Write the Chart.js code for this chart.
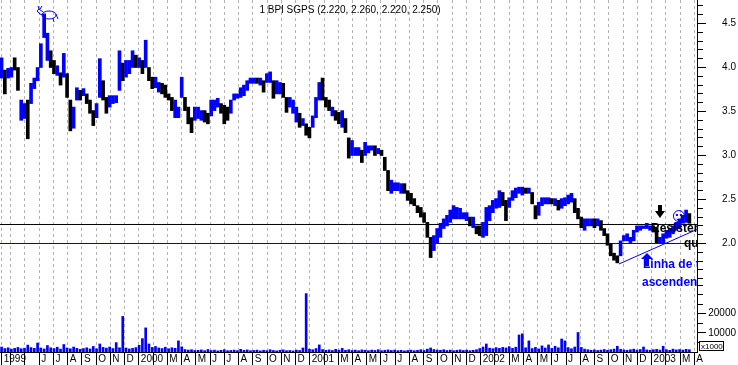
<!DOCTYPE html>
<html>
<head>
<meta charset="utf-8">
<title>BPI SGPS</title>
<script src="https://cdn.jsdelivr.net/npm/chart.js@4.4.1/dist/chart.umd.min.js"></script>
<style>
  html, body { margin: 0; padding: 0; background: #fff; }
  #chart { display: block; }
</style>
</head>
<body>
<canvas id="chart" width="738" height="365"></canvas>
<script>
// weekly bars, first week ~ mid March 1999
const weekHigh = [
  4.11, 3.97, 3.99, 4.00, 4.11, 4.00, 3.63, 3.59, 3.63, 3.82,
  3.88, 4.00, 4.27, 4.61, 4.39, 4.19, 4.08, 4.02, 3.94, 4.16,
  3.93, 3.63, 3.55, 3.77, 3.74, 3.76, 3.70, 3.63, 3.51, 3.59,
  4.10, 3.85, 3.66, 3.68, 3.68, 3.68, 4.19, 4.05, 4.08, 4.08,
  4.19, 4.14, 4.11, 4.08, 4.31, 4.00, 3.89, 3.89, 3.83, 3.82,
  3.80, 3.70, 3.66, 3.63, 3.55, 3.89, 3.66, 3.55, 3.43, 3.55,
  3.55, 3.51, 3.51, 3.48, 3.63, 3.63, 3.65, 3.59, 3.57, 3.55,
  3.63, 3.70, 3.70, 3.77, 3.80, 3.85, 3.88, 3.88, 3.88, 3.88,
  3.85, 3.93, 3.95, 3.85, 3.85, 3.83, 3.82, 3.66, 3.66, 3.63,
  3.55, 3.48, 3.42, 3.36, 3.32, 3.45, 3.66, 3.83, 3.88, 3.66,
  3.63, 3.55, 3.51, 3.49, 3.51, 3.42, 3.20, 3.17, 3.09, 3.09,
  3.06, 3.15, 3.11, 3.11, 3.11, 3.08, 3.06, 2.98, 2.83, 2.72,
  2.69, 2.69, 2.68, 2.68, 2.60, 2.57, 2.51, 2.43, 2.41, 2.35,
  2.24, 2.07, 2.09, 2.17, 2.23, 2.28, 2.32, 2.38, 2.43, 2.41,
  2.40, 2.35, 2.35, 2.30, 2.30, 2.20, 2.20, 2.24, 2.41, 2.43,
  2.49, 2.51, 2.60, 2.58, 2.49, 2.52, 2.60, 2.63, 2.64, 2.64,
  2.63, 2.63, 2.58, 2.43, 2.47, 2.52, 2.52, 2.52, 2.51, 2.51,
  2.49, 2.51, 2.52, 2.55, 2.57, 2.51, 2.40, 2.30, 2.28, 2.28,
  2.28, 2.28, 2.28, 2.26, 2.17, 2.11, 2.00, 1.89, 1.86, 2.03,
  2.09, 2.11, 2.07, 2.15, 2.20, 2.20, 2.20, 2.23, 2.20, 2.20,
  2.18, 2.07, 2.11, 2.15, 2.17, 2.20, 2.24, 2.28, 2.32, 2.38, 2.34
];
const weekLow = [
  3.88, 3.70, 3.88, 3.89, 3.97, 3.74, 3.40, 3.42, 3.19, 3.59,
  3.76, 3.85, 4.00, 4.34, 4.08, 4.00, 3.93, 3.91, 3.80, 3.89,
  3.66, 3.28, 3.31, 3.63, 3.63, 3.68, 3.59, 3.48, 3.34, 3.43,
  3.66, 3.63, 3.48, 3.55, 3.59, 3.60, 3.74, 3.85, 3.89, 3.93,
  4.00, 4.00, 4.00, 3.93, 4.00, 3.85, 3.76, 3.77, 3.72, 3.70,
  3.66, 3.63, 3.51, 3.43, 3.43, 3.66, 3.51, 3.36, 3.26, 3.40,
  3.42, 3.40, 3.38, 3.36, 3.45, 3.51, 3.55, 3.48, 3.36, 3.40,
  3.48, 3.63, 3.65, 3.66, 3.68, 3.74, 3.82, 3.82, 3.82, 3.80,
  3.72, 3.83, 3.83, 3.65, 3.70, 3.70, 3.66, 3.49, 3.55, 3.48,
  3.38, 3.32, 3.34, 3.23, 3.20, 3.32, 3.43, 3.63, 3.63, 3.55,
  3.51, 3.45, 3.40, 3.36, 3.32, 3.26, 2.97, 3.00, 3.00, 3.00,
  2.92, 3.00, 3.03, 3.06, 3.00, 3.02, 3.00, 2.83, 2.60, 2.57,
  2.60, 2.60, 2.57, 2.57, 2.49, 2.45, 2.43, 2.35, 2.30, 2.24,
  2.07, 1.84, 1.92, 2.00, 2.07, 2.17, 2.20, 2.24, 2.28, 2.28,
  2.28, 2.28, 2.26, 2.20, 2.18, 2.11, 2.09, 2.07, 2.09, 2.26,
  2.35, 2.40, 2.41, 2.43, 2.26, 2.41, 2.49, 2.52, 2.57, 2.55,
  2.57, 2.57, 2.45, 2.28, 2.32, 2.43, 2.45, 2.45, 2.45, 2.43,
  2.38, 2.40, 2.43, 2.45, 2.47, 2.35, 2.28, 2.18, 2.15, 2.20,
  2.20, 2.18, 2.20, 2.15, 2.09, 1.98, 1.86, 1.81, 1.78, 1.86,
  2.03, 2.03, 2.01, 2.03, 2.13, 2.15, 2.17, 2.17, 2.15, 2.13,
  2.01, 2.00, 2.01, 2.06, 2.07, 2.11, 2.15, 2.18, 2.23, 2.24, 2.23
];
// 1 = week closed up (blue), 0 = down (black)
const weekUp = [
  1,0,1,1,0,0,1,1,0,1, 1,1,1,1,1,0,0,1,0,1, 0,0,1,1,0,1,0,0,0,1,
  1,0,0,1,1,1,1,0,1,1, 1,0,1,0,1,0,0,1,1,0, 0,0,0,1,1,1,0,0,0,1,
  1,1,0,0,1,1,1,0,0,0, 1,1,1,1,1,1,1,1,0,1, 0,1,1,0,1,1,0,0,1,1,
  1,0,1,0,0,1,1,1,0,0, 0,1,0,0,1,0,0,1,1,1, 0,1,1,1,0,1,0,0,0,1,
  1,1,1,0,0,0,0,0,0,0, 0,0,1,1,1,1,1,1,1,1, 1,1,1,0,1,0,0,1,1,1,
  1,1,1,0,0,1,1,1,1,1, 0,1,0,0,1,1,1,1,0,1, 0,1,1,1,1,0,0,0,1,1,
  1,0,1,0,0,0,0,0,0,1, 1,1,1,1,1,1,1,1,1,0, 0,1,1,1,1,1,1,1,1,1,0
];
// volume, x1000
const weekVolume = [
  2600, 1800, 2200, 1500, 1900, 2400, 1700, 2000, 3600, 2300,
  1900, 4700, 2100, 1600, 3400, 2200, 1800, 2500, 1500, 3900,
  2100, 1700, 2600, 1900, 1400, 1800, 2200, 1600, 2900, 1700,
  4200, 2400, 2000, 2600, 1800, 4900, 2200, 18600, 2100, 1600,
  1900, 2300, 3500, 7000, 12600, 4200, 2400, 2900, 2100, 1800,
  2500, 1700, 2200, 1900, 5800, 2700, 1300, 1000, 1200, 800,
  900, 1100, 700, 1300, 800, 1000, 600, 900, 1200, 700,
  800, 1000, 700, 1400, 900, 1100, 700, 800, 1000, 600,
  900, 700, 1200, 800, 600, 900, 1100, 700, 800, 600,
  1000, 800, 2100, 30500, 1500, 1200, 1800, 3700, 1300, 900,
  1100, 800, 1400, 1000, 1900, 900, 1200, 800, 1000, 700,
  1100, 900, 700, 1000, 800, 1200, 700, 900, 1100, 800,
  1000, 700, 900, 600, 800, 1000, 700, 900, 1200, 800,
  1500, 2100, 1300, 1000, 900, 1200, 800, 1000, 700, 900,
  1100, 800, 1000, 700, 900, 1200, 1800, 2600, 4200, 2000,
  1700, 2300, 1900, 2400, 2100, 2800, 1900, 2500, 8900, 9500,
  2200, 5800, 1800, 2400, 1600, 3200, 2100, 3700, 1900, 3000,
  2200, 6800, 5800, 2300, 1700, 2600, 10200, 2400, 1500, 1200,
  900, 1100, 800, 1000, 1300, 900, 1200, 1500, 3000, 1400,
  1100, 900, 1200, 1500, 1000, 1300, 2600, 1100, 900, 1200,
  1400, 1000, 3000, 1200, 900, 1500, 1100, 1300, 1000, 1400, 1200
];

// x axis is in months, 0 = April 1999
const xTickValues = [-0.63, 0,1,2,3,4,5,6,7,8,9,10,11,12,13,14,15,16,17,18,19,20,21,22,23,24,
  25,26,27,28,29,30,31,32,33,34,35,36,37,38,39,40,41,42,43,44,45,46,47,48];
const xTickLabels = ['1999','','','J','J','A','S','O','N','D',
  '2000','','M','A','M','J','J','A','S','O','N','D',
  '2001','','M','A','M','J','J','A','S','O','N','D',
  '2002','','M','A','M','J','J','A','S','O','N','D',
  '2003','','M','A'];
const priceTicks = [1.6,1.7,1.8,1.9,2.0,2.1,2.2,2.3,2.4,2.5,2.6,2.7,2.8,2.9,3.0,3.1,3.2,3.3,
  3.4,3.5,3.6,3.7,3.8,3.9,4.0,4.1,4.2,4.3,4.4,4.5,4.6,4.7];
const priceLabels = [2.0, 2.5, 3.0, 3.5, 4.0, 4.5];
const volumeTicks = [5000, 10000, 15000, 20000, 25000, 30000, 35000];
const volumeLabels = [10000, 20000];

const resistance = 2.216;
const support = 2.0;
const trendLine = [{x: 42.71, y: 1.767}, {x: 48.19, y: 2.16}];
const title = '1 BPI SGPS (2.220, 2.260, 2.220, 2.250)';

const xMin = -0.75, xMax = 48.19;
const firstWeek = -0.64, weekStep = 12 / 52.18;
const BLUE = '#0000ff', BLACK = '#000000';
const FONT = '"Liberation Sans", Arial, sans-serif';

const priceBars = weekHigh.map((h, i) => ({x: firstWeek + i * weekStep, y: [weekLow[i], h]}));
const volumeBars = weekVolume.map((v, i) => ({x: firstWeek + i * weekStep, y: v}));

const near = (list, v) => list.some(t => Math.abs(t - v) < 1e-6);

function noPadding(s) {
  s.paddingTop = 0; s.paddingBottom = 0; s.paddingLeft = 0; s.paddingRight = 0;
}

// title, arrows and notes drawn on top of the plot
const notes = {
  id: 'notes',
  afterDatasetsDraw(chart) {
    const {ctx, chartArea: a, scales: {x, y}} = chart;
    const px = m => x.getPixelForValue(m);
    const py = p => y.getPixelForValue(p);
    ctx.save();
    ctx.beginPath();
    ctx.rect(a.left, a.top, a.right - a.left, a.bottom - a.top);
    ctx.clip();

    ctx.fillStyle = BLACK;
    ctx.font = '10px ' + FONT;
    ctx.textAlign = 'center';
    ctx.fillText(title, 350, 13);

    // bull
    ctx.strokeStyle = BLUE;
    ctx.lineWidth = 1;
    ctx.beginPath();
    ctx.ellipse(49, 15, 7, 4, 0, 0, Math.PI * 2);
    ctx.moveTo(43, 12); ctx.lineTo(39, 9); ctx.lineTo(37, 11); ctx.lineTo(40, 14); ctx.lineTo(43, 15);
    ctx.moveTo(39, 9); ctx.lineTo(38, 6); ctx.moveTo(40, 9); ctx.lineTo(42, 6);
    ctx.moveTo(45, 18); ctx.lineTo(45, 22); ctx.moveTo(53, 18); ctx.lineTo(54, 22);
    ctx.moveTo(56, 14); ctx.lineTo(58, 19);
    ctx.stroke();

    ctx.textAlign = 'left';
    // resistance note
    let cx = px(45.59), top = py(2.437);
    ctx.fillStyle = BLACK;
    ctx.fillRect(cx - 2, top, 4, 7);
    ctx.beginPath();
    ctx.moveTo(cx - 5, top + 6); ctx.lineTo(cx + 5, top + 6); ctx.lineTo(cx, top + 13); ctx.closePath();
    ctx.fill();
    ctx.font = 'bold 12px ' + FONT;
    ctx.fillText('Resister', px(44.96), py(2.13));
    ctx.fillText('qu', px(47.28), py(1.96));

    // smiley
    const sx = px(46.92), sy = py(2.312);
    ctx.strokeStyle = BLUE;
    ctx.beginPath(); ctx.arc(sx, sy, 5.5, 0, Math.PI * 2); ctx.stroke();
    ctx.fillStyle = BLUE;
    ctx.fillRect(sx - 3, sy - 2, 2, 2); ctx.fillRect(sx + 1, sy - 2, 2, 2);
    ctx.beginPath(); ctx.arc(sx, sy + 1, 3, 0.2 * Math.PI, 0.8 * Math.PI); ctx.stroke();

    // trend line note
    cx = px(44.68); top = py(1.892);
    ctx.fillStyle = BLUE;
    ctx.beginPath();
    ctx.moveTo(cx - 6, top + 6); ctx.lineTo(cx + 6, top + 6); ctx.lineTo(cx, top); ctx.closePath();
    ctx.fill();
    ctx.fillRect(cx - 2, top + 6, 4, 7);
    ctx.fillText('Linha de tendência', px(44.4), py(1.72));
    ctx.fillText('ascendente', px(44.33), py(1.517));
    ctx.restore();

    // x1000 box under the volume scale
    ctx.save();
    ctx.fillStyle = '#fff';
    ctx.fillRect(a.right + 2, a.bottom - 11, 24, 10);
    ctx.strokeStyle = BLACK;
    ctx.strokeRect(a.right + 2.5, a.bottom - 10.5, 24, 9);
    ctx.fillStyle = BLACK;
    ctx.font = '8px ' + FONT;
    ctx.textAlign = 'left';
    ctx.fillText('x1000', a.right + 4, a.bottom - 3);
    ctx.restore();
  }
};

new Chart(document.getElementById('chart'), {
  type: 'bar',
  data: {
    datasets: [
      {
        label: 'BPI SGPS',
        data: priceBars,
        yAxisID: 'y',
        backgroundColor: weekUp.map(u => u ? BLUE : BLACK),
        barThickness: 3,
        minBarLength: 2,
        grouped: false
      },
      {
        label: 'Volume',
        data: volumeBars,
        yAxisID: 'yv',
        backgroundColor: BLUE,
        barThickness: 2,
        grouped: false
      },
      {
        type: 'line',
        data: [{x: xMin, y: resistance}, {x: xMax, y: resistance}],
        yAxisID: 'y',
        borderColor: BLACK,
        borderWidth: 1,
        pointRadius: 0
      },
      {
        type: 'line',
        data: [{x: xMin, y: support}, {x: xMax, y: support}],
        yAxisID: 'y',
        borderColor: '#0000c0',
        borderWidth: 1,
        pointRadius: 0
      },
      {
        type: 'line',
        data: trendLine,
        yAxisID: 'y',
        borderColor: BLUE,
        borderWidth: 1,
        pointRadius: 0
      }
    ]
  },
  options: {
    responsive: false,
    animation: false,
    devicePixelRatio: 1,
    layout: {padding: {left: 0, right: 2, top: 0, bottom: 0}},
    plugins: {legend: {display: false}, tooltip: {enabled: false}},
    scales: {
      x: {
        type: 'linear',
        position: 'bottom',
        offset: false,
        min: xMin,
        max: xMax,
        afterBuildTicks: s => { s.ticks = xTickValues.map(v => ({value: v})); },
        afterFit: s => { s.height = 13; noPadding(s); },
        ticks: {
          autoSkip: false,
          maxRotation: 0,
          align: 'start',
          labelOffset: 2,
          padding: -12,
          color: BLACK,
          font: {family: FONT, size: 10},
          callback: (v, i) => xTickLabels[i]
        },
        grid: {
          display: true,
          drawOnChartArea: true,
          offset: false,
          color: '#b4b4b4',
          lineWidth: 1,
          tickColor: BLACK,
          tickLength: 13
        },
        border: {color: BLACK, dash: [3, 3]}
      },
      y: {
        type: 'linear',
        position: 'right',
        stack: 'right',
        stackWeight: 285,
        min: 4.767 - 285 / 88,
        max: 4.767,
        afterBuildTicks: s => { s.ticks = priceTicks.map(v => ({value: v})); },
        afterFit: s => { s.width = 39; noPadding(s); },
        ticks: {
          autoSkip: false,
          crossAlign: 'far',
          color: BLACK,
          font: {family: FONT, size: 10},
          callback: v => near(priceLabels, v) ? v.toFixed(1) : ''
        },
        grid: {
          drawOnChartArea: false,
          tickLength: 9,
          tickColor: BLACK,
          tickBorderDash: c => (c.tick && near(priceLabels, c.tick.value)) ? [] : [5, 10]
        },
        border: {color: BLACK}
      },
      yv: {
        type: 'linear',
        position: 'right',
        stack: 'right',
        stackWeight: 67,
        min: 0,
        max: 35000,
        afterBuildTicks: s => { s.ticks = volumeTicks.map(v => ({value: v})); },
        afterFit: s => { s.width = 39; noPadding(s); },
        ticks: {
          autoSkip: false,
          crossAlign: 'far',
          color: BLACK,
          font: {family: FONT, size: 10},
          callback: v => near(volumeLabels, v) ? String(v) : ''
        },
        grid: {
          drawOnChartArea: false,
          tickLength: 9,
          tickColor: BLACK,
          tickBorderDash: c => (c.tick && near(volumeLabels, c.tick.value)) ? [] : [5, 10]
        },
        border: {color: BLACK}
      }
    }
  },
  plugins: [notes]
});
</script>
</body>
</html>
